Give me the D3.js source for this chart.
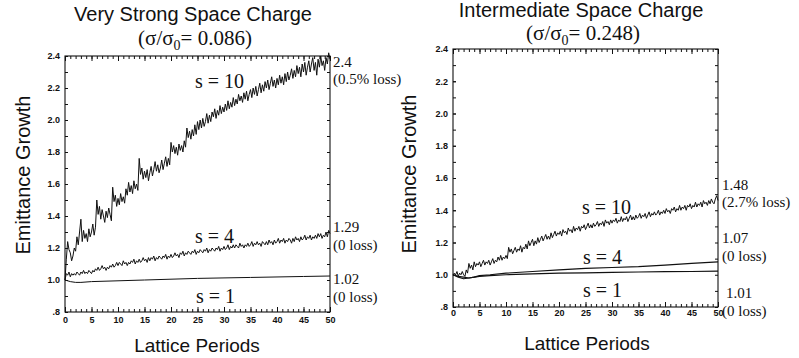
<!DOCTYPE html>
<html>
<head>
<meta charset="utf-8">
<script src="https://cdn.jsdelivr.net/npm/d3@7"></script>
<style>
  body { margin: 0; background: #fff; }
  text { fill: #111; }
</style>
</head>
<body>
<svg id="chart" width="799" height="358"></svg>
<script>
const periods = d3.range(0, 50.25, 0.25);

// very strong space charge, s = 10 (two periods per row)
const strongS10 = [
  1.00, 1.13, 1.24, 1.19, 1.17, 1.12, 1.15, 1.20,
  1.18, 1.27, 1.22, 1.30, 1.38, 1.24, 1.31, 1.26,
  1.29, 1.24, 1.32, 1.27, 1.30, 1.35, 1.28, 1.33,
  1.50, 1.41, 1.46, 1.38, 1.44, 1.40, 1.36, 1.43,
  1.39, 1.45, 1.41, 1.37, 1.58, 1.49, 1.53, 1.46,
  1.51, 1.47, 1.54, 1.49, 1.52, 1.48, 1.57, 1.53,
  1.61, 1.55, 1.59, 1.54, 1.62, 1.57, 1.60, 1.56,
  1.76, 1.66, 1.70, 1.63, 1.68, 1.64, 1.69, 1.62,
  1.67, 1.71, 1.65, 1.69, 1.74, 1.68, 1.72, 1.67,
  1.70, 1.75, 1.69, 1.73, 1.77, 1.71, 1.76, 1.72,
  1.86, 1.80, 1.84, 1.79, 1.83, 1.78, 1.85, 1.81,
  1.84, 1.80, 1.87, 1.83, 1.95, 1.89, 1.93, 1.88,
  1.94, 1.90, 1.97, 1.91, 1.99, 1.94, 2.00, 1.95,
  2.01, 1.96, 1.99, 2.04, 1.98, 2.03, 1.99, 2.05,
  2.02, 2.07, 2.01, 2.06, 2.03, 2.09, 2.04, 2.08,
  2.05, 2.10, 2.06, 2.12, 2.07, 2.11, 2.08, 2.14,
  2.09, 2.13, 2.10, 2.16, 2.12, 2.15, 2.11, 2.17,
  2.13, 2.18, 2.12, 2.16, 2.19, 2.14, 2.20, 2.16,
  2.21, 2.15, 2.19, 2.23, 2.17, 2.22, 2.18, 2.24,
  2.20, 2.25, 2.19, 2.23, 2.27, 2.21, 2.25, 2.20,
  2.26, 2.22, 2.28, 2.23, 2.27, 2.22, 2.29, 2.24,
  2.30, 2.25, 2.28, 2.32, 2.26, 2.31, 2.27, 2.34,
  2.29, 2.33, 2.27, 2.35, 2.30, 2.36, 2.28, 2.33,
  2.37, 2.30, 2.35, 2.39, 2.31, 2.36, 2.28, 2.38,
  2.33, 2.40, 2.34, 2.37, 2.31, 2.39, 2.35, 2.42,
  2.38
];
// very strong space charge, s = 4
const strongS4 = [
  1.00, 1.04, 1.03, 1.05, 1.02, 1.04, 1.03, 1.04,
  1.03, 1.05, 1.04, 1.03, 1.05, 1.04, 1.06, 1.04,
  1.05, 1.04, 1.06, 1.05, 1.04, 1.06, 1.05, 1.07,
  1.06, 1.08, 1.06, 1.07, 1.09, 1.07, 1.08, 1.06,
  1.08, 1.07, 1.09, 1.08, 1.10, 1.08, 1.09, 1.11,
  1.09, 1.11, 1.10, 1.09, 1.12, 1.10, 1.11, 1.09,
  1.11, 1.10, 1.12, 1.11, 1.13, 1.10, 1.12, 1.11,
  1.13, 1.11, 1.12, 1.14, 1.12, 1.13, 1.11, 1.14,
  1.12, 1.14, 1.13, 1.15, 1.12, 1.14, 1.13, 1.15,
  1.14, 1.13, 1.15, 1.14, 1.16, 1.13, 1.15, 1.14,
  1.16, 1.14, 1.15, 1.17, 1.15, 1.16, 1.14, 1.17,
  1.16, 1.18, 1.15, 1.17, 1.16, 1.18, 1.17, 1.16,
  1.18, 1.17, 1.19, 1.16, 1.18, 1.17, 1.19, 1.18,
  1.17, 1.19, 1.18, 1.20, 1.17, 1.19, 1.18, 1.20,
  1.19, 1.18, 1.20, 1.19, 1.21, 1.18, 1.20, 1.19,
  1.21, 1.19, 1.20, 1.22, 1.19, 1.21, 1.20, 1.22,
  1.20, 1.22, 1.21, 1.20, 1.23, 1.21, 1.22, 1.20,
  1.22, 1.21, 1.23, 1.21, 1.22, 1.24, 1.21, 1.23,
  1.22, 1.24, 1.22, 1.23, 1.21, 1.24, 1.23, 1.22,
  1.24, 1.22, 1.25, 1.23, 1.24, 1.22, 1.25, 1.23,
  1.24, 1.26, 1.23, 1.25, 1.24, 1.26, 1.23, 1.25,
  1.24, 1.26, 1.25, 1.23, 1.26, 1.24, 1.27, 1.25,
  1.26, 1.24, 1.27, 1.25, 1.26, 1.28, 1.25, 1.27,
  1.26, 1.28, 1.25, 1.27, 1.26, 1.28, 1.26, 1.29,
  1.27, 1.29, 1.26, 1.28, 1.27, 1.30, 1.27, 1.31,
  1.29
];
// very strong space charge, s = 1 (smooth, [period, growth])
const strongS1 = [
  [0, 1.0], [1, 0.99], [2, 0.985], [3, 0.985], [5, 0.99], [10, 0.995],
  [15, 1.0], [20, 1.005], [25, 1.01], [30, 1.013], [35, 1.016],
  [40, 1.019], [45, 1.022], [50, 1.025]
];

// intermediate space charge, s = 10
const interS10 = [
  1.00, 1.01, 1.00, 1.02, 0.99, 1.01, 1.00, 1.02,
  1.00, 0.99, 1.03, 1.01, 1.07, 1.04, 1.06, 1.03,
  1.08, 1.05, 1.07, 1.06, 1.08, 1.05, 1.07, 1.09,
  1.06, 1.08, 1.07, 1.09, 1.06, 1.08, 1.10, 1.07,
  1.09, 1.08, 1.11, 1.09, 1.12, 1.09, 1.11, 1.10,
  1.12, 1.10, 1.17, 1.14, 1.16, 1.13, 1.15, 1.17,
  1.14, 1.16, 1.15, 1.18, 1.14, 1.17, 1.16, 1.19,
  1.16, 1.21, 1.18, 1.20, 1.22, 1.18, 1.21, 1.19,
  1.23, 1.20, 1.22, 1.24, 1.21, 1.23, 1.25, 1.22,
  1.24, 1.22, 1.26, 1.23, 1.25, 1.27, 1.24, 1.26,
  1.25, 1.27, 1.24, 1.28, 1.26, 1.27, 1.25, 1.29,
  1.27, 1.28, 1.26, 1.30, 1.27, 1.29, 1.28, 1.30,
  1.27, 1.30, 1.29, 1.31, 1.28, 1.30, 1.32, 1.29,
  1.31, 1.29, 1.32, 1.30, 1.31, 1.33, 1.30, 1.32,
  1.31, 1.33, 1.30, 1.34, 1.32, 1.33, 1.31, 1.34,
  1.32, 1.34, 1.33, 1.35, 1.32, 1.34, 1.33, 1.36,
  1.33, 1.35, 1.34, 1.36, 1.33, 1.35, 1.37, 1.34,
  1.36, 1.34, 1.37, 1.35, 1.36, 1.38, 1.35, 1.37,
  1.36, 1.38, 1.35, 1.37, 1.39, 1.36, 1.38, 1.37,
  1.39, 1.37, 1.38, 1.40, 1.37, 1.39, 1.38, 1.40,
  1.38, 1.41, 1.39, 1.40, 1.38, 1.41, 1.40, 1.42,
  1.39, 1.41, 1.40, 1.43, 1.40, 1.42, 1.41, 1.43,
  1.40, 1.43, 1.42, 1.44, 1.41, 1.43, 1.42, 1.45,
  1.42, 1.44, 1.43, 1.45, 1.42, 1.46, 1.44, 1.45,
  1.43, 1.46, 1.44, 1.47, 1.45, 1.44, 1.47, 1.49,
  1.46
];
// intermediate space charge, s = 4 and s = 1 (smooth)
const interS4 = [
  [0, 1.0], [1, 0.99], [2, 0.985], [3, 0.98], [4, 0.985], [5, 0.995],
  [7, 1.0], [10, 1.01], [15, 1.02], [20, 1.03], [25, 1.04], [30, 1.045],
  [35, 1.05], [40, 1.06], [45, 1.07], [50, 1.08]
];
const interS1 = [
  [0, 1.0], [1, 0.985], [2, 0.975], [3, 0.98], [4, 0.985], [5, 0.99],
  [7, 0.995], [10, 1.0], [15, 1.005], [20, 1.01], [25, 1.012], [30, 1.015],
  [35, 1.017], [40, 1.019], [45, 1.02], [50, 1.022]
];

const xMajor = [0, 5, 10, 15, 20, 25, 30, 35, 40, 45, 50];
const yMajor = [0.8, 1.0, 1.2, 1.4, 1.6, 1.8, 2.0, 2.2, 2.4];

const svg = d3.select("#chart");

function drawPanel(p) {
  const x = d3.scaleLinear().domain([0, 50]).range([p.left, p.right]);
  const y = d3.scaleLinear().domain([0.8, 2.4]).range([p.bottom, p.top]);
  const g = svg.append("g");
  const fmt = d => d === 0.8 ? ".8" : d.toFixed(1);

  // frame
  g.append("rect")
    .attr("x", p.left).attr("y", p.top)
    .attr("width", p.right - p.left).attr("height", p.bottom - p.top)
    .attr("fill", "none").attr("stroke", "#111").attr("stroke-width", 1.1);

  const axes = [
    [d3.axisBottom(x).tickValues(x.ticks(50)).tickSize(-3).tickFormat(""), `translate(0,${p.bottom})`],
    [d3.axisBottom(x).tickValues(xMajor).tickSize(-5).tickPadding(p.xPad).tickFormat(d3.format("d")), `translate(0,${p.bottom})`],
    [d3.axisTop(x).tickValues(x.ticks(50)).tickSize(-3).tickFormat(""), `translate(0,${p.top})`],
    [d3.axisTop(x).tickValues(xMajor).tickSize(-5).tickFormat(""), `translate(0,${p.top})`],
    [d3.axisLeft(y).tickValues(y.ticks(16)).tickSize(-3).tickFormat(""), `translate(${p.left},0)`],
    [d3.axisLeft(y).tickValues(yMajor).tickSize(-3).tickPadding(5).tickFormat(fmt), `translate(${p.left},0)`],
    [d3.axisRight(y).tickValues(y.ticks(16)).tickSize(-3).tickFormat(""), `translate(${p.right},0)`]
  ];
  axes.forEach(([ax, tr]) => {
    const a = g.append("g").attr("transform", tr).call(ax);
    a.select(".domain").remove();
    a.selectAll("line").attr("stroke", "#111");
    a.selectAll("text")
      .attr("font-family", "Liberation Sans, Arial, sans-serif")
      .attr("font-size", 9).attr("font-weight", "bold").attr("fill", "#222");
  });

  // curves
  const line = d3.line().x(d => x(d[0])).y(d => y(d[1]));
  p.series.forEach(s => {
    g.append("path")
      .datum(s.values)
      .attr("d", line)
      .attr("fill", "none")
      .attr("stroke", "#111")
      .attr("stroke-width", s.width)
      .attr("stroke-linejoin", "round");
  });

  // titles
  g.append("text").attr("x", p.titleX).attr("y", p.titleY)
    .attr("text-anchor", "middle")
    .attr("font-family", "Liberation Sans, Arial, sans-serif")
    .attr("font-size", 20).text(p.title);
  const sub = g.append("text").attr("x", p.subX).attr("y", p.subY)
    .attr("text-anchor", "middle")
    .attr("font-family", "Liberation Serif, Times New Roman, serif")
    .attr("font-size", 21);
  sub.append("tspan").text("(σ/σ");
  sub.append("tspan").attr("dy", 5).attr("font-size", 14).text("0");
  sub.append("tspan").attr("dy", -5).text("= " + p.ratio + ")");

  g.append("text")
    .attr("transform", `translate(${p.yLabelX},${p.yLabelY}) rotate(-90)`)
    .attr("text-anchor", "middle")
    .attr("font-family", "Liberation Sans, Arial, sans-serif")
    .attr("font-size", 20).text("Emittance Growth");
  g.append("text").attr("x", p.xLabelX).attr("y", p.xLabelY)
    .attr("text-anchor", "middle")
    .attr("font-family", "Liberation Sans, Arial, sans-serif")
    .attr("font-size", 19).text("Lattice Periods");

  // curve labels and end notes
  p.labels.forEach(l => {
    g.append("text").attr("x", l.x).attr("y", l.y)
      .attr("font-family", "Liberation Serif, Times New Roman, serif")
      .attr("font-size", l.size).text(l.text);
  });
}

const quarterPairs = vals => periods.map((t, i) => [t, vals[i]]).filter(d => d[1] !== undefined);

drawPanel({
  left: 65, right: 330, top: 56, bottom: 312, xPad: 5,
  title: "Very Strong Space Charge", titleX: 193, titleY: 21,
  ratio: "0.086", subX: 195, subY: 45,
  yLabelX: 30, yLabelY: 175, xLabelX: 197, xLabelY: 352,
  series: [
    { values: quarterPairs(strongS10), width: 1 },
    { values: quarterPairs(strongS4), width: 1 },
    { values: strongS1, width: 1 }
  ],
  labels: [
    { text: "s = 10", x: 195, y: 88, size: 20 },
    { text: "s = 4", x: 195, y: 243, size: 20 },
    { text: "s = 1", x: 196, y: 303, size: 20 },
    { text: "2.4", x: 333, y: 67, size: 15 },
    { text: "(0.5% loss)", x: 333, y: 84, size: 15 },
    { text: "1.29", x: 333, y: 232, size: 15 },
    { text: "(0 loss)", x: 333, y: 250, size: 15 },
    { text: "1.02", x: 333, y: 284, size: 15 },
    { text: "(0 loss)", x: 333, y: 302, size: 15 }
  ]
});

drawPanel({
  left: 453, right: 718, top: 49, bottom: 307, xPad: 3,
  title: "Intermediate Space Charge", titleX: 581, titleY: 17,
  ratio: "0.248", subX: 583, subY: 40,
  yLabelX: 416, yLabelY: 174, xLabelX: 587, xLabelY: 350,
  series: [
    { values: quarterPairs(interS10), width: 1 },
    { values: interS4, width: 1.2 },
    { values: interS1, width: 1.2 }
  ],
  labels: [
    { text: "s = 10", x: 582, y: 214, size: 20 },
    { text: "s = 4", x: 583, y: 264, size: 20 },
    { text: "s = 1", x: 583, y: 297, size: 20 },
    { text: "1.48", x: 722, y: 190, size: 15 },
    { text: "(2.7% loss)", x: 722, y: 207, size: 15 },
    { text: "1.07", x: 722, y: 243, size: 15 },
    { text: "(0 loss)", x: 722, y: 261, size: 15 },
    { text: "1.01", x: 726, y: 298, size: 15 },
    { text: "(0 loss)", x: 722, y: 316, size: 15 }
  ]
});
</script>
</body>
</html>
